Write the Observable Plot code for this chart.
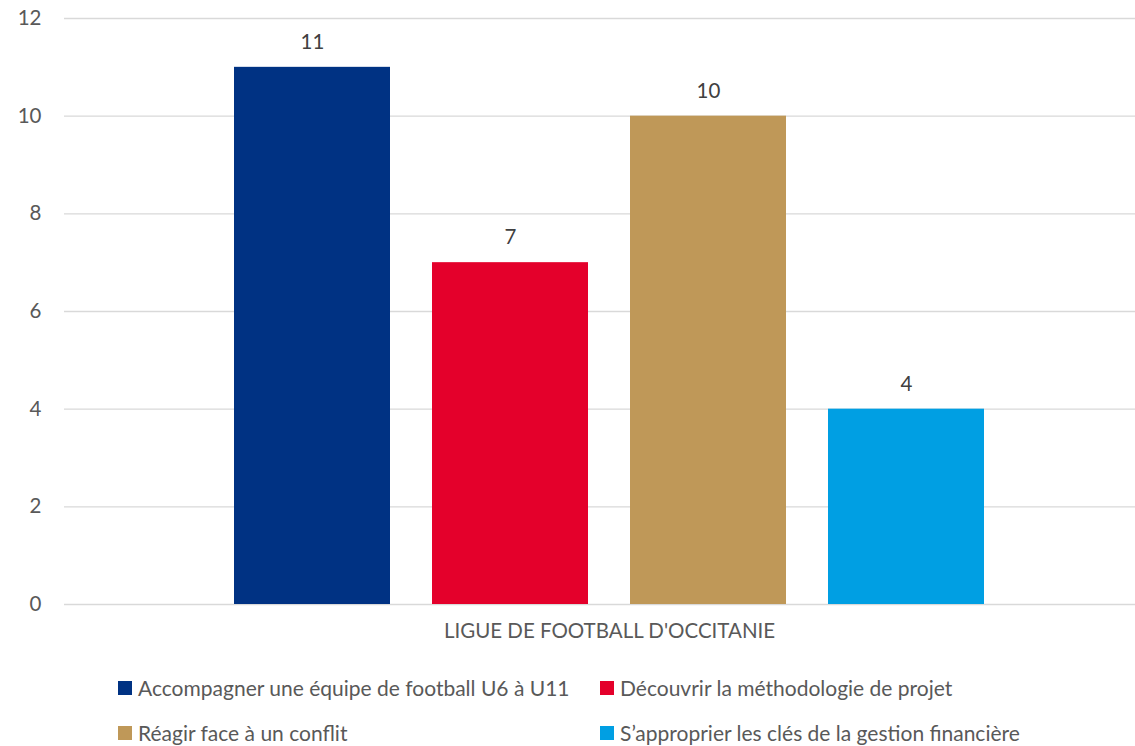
<!DOCTYPE html>
<html>
<head>
<meta charset="utf-8">
<script src="https://cdn.jsdelivr.net/npm/d3@7"></script>
<script src="https://cdn.jsdelivr.net/npm/@observablehq/plot@0.6"></script>
<style>
  html, body { margin: 0; padding: 0; background: #fff; overflow: hidden; }
  #wrap { position: relative; width: 1135px; height: 746px; font-family: Lato, "Open Sans", sans-serif; color: #595959; }
  #legend { position: absolute; left: 0; top: 0; width: 1135px; }
  .item { position: absolute; display: flex; align-items: center; font-size: 21px; line-height: 24px; white-space: nowrap; }
  .sw { width: 14px; height: 14px; margin-right: 6px; flex: none; }
</style>
</head>
<body>
<div id="wrap"><div id="chart"></div><div id="legend"></div></div>
<script>
const categories = [
  "Accompagner une équipe de football U6 à U11",
  "Découvrir la méthodologie de projet",
  "Réagir face à un conflit",
  "S’approprier les clés de la gestion financière"
];
const values = [11, 7, 10, 4];
const colors = ["#003283", "#E4002B", "#BF9858", "#009FE3"];
const groupLabel = "LIGUE DE FOOTBALL D'OCCITANIE";
const yTicks = [0, 2, 4, 6, 8, 10, 12];

const data = categories.map((c, i) => ({category: c, value: values[i]}));

const chart = Plot.plot({
  width: 1135,
  height: 660,
  marginTop: 18,
  marginBottom: 56,
  marginLeft: 64,
  marginRight: 0,
  style: {fontFamily: "Lato, 'Open Sans', sans-serif", fontSize: "20.5px", color: "#595959", background: "#fff"},
  x: {domain: categories, range: [192, 1026], padding: 0.212, axis: null},
  y: {domain: [0, 12], ticks: yTicks, label: null},
  color: {domain: categories, range: colors},
  marks: [
    Plot.ruleY(yTicks, {stroke: "#D9D9D9", strokeWidth: 1.3}),
    Plot.axisY({ticks: yTicks, tickSize: 0, tickPadding: 23, label: null, fontSize: 20.5, fill: "#595959"}),
    Plot.barY(data, {x: "category", y: "value", fill: "category"}),
    Plot.text(data, {x: "category", y: "value", text: d => String(d.value), dy: -25, fontSize: 20.5, fill: "#404040"}),
    Plot.text([groupLabel], {frameAnchor: "bottom", dx: 9.5, dy: 33, fontSize: 20.5, fill: "#595959"})
  ]
});
document.getElementById("chart").appendChild(chart);

const legend = document.getElementById("legend");
const pos = [[118, 688], [600, 688], [118, 733], [600, 733]];
categories.forEach((c, i) => {
  const it = document.createElement("div");
  it.className = "item";
  it.style.left = pos[i][0] + "px";
  it.style.top = (pos[i][1] - 12) + "px";
  it.style.height = "24px";
  const sw = document.createElement("span");
  sw.className = "sw";
  sw.style.background = colors[i];
  const tx = document.createElement("span");
  tx.textContent = c;
  it.appendChild(sw); it.appendChild(tx);
  legend.appendChild(it);
});
</script>
</body>
</html>
